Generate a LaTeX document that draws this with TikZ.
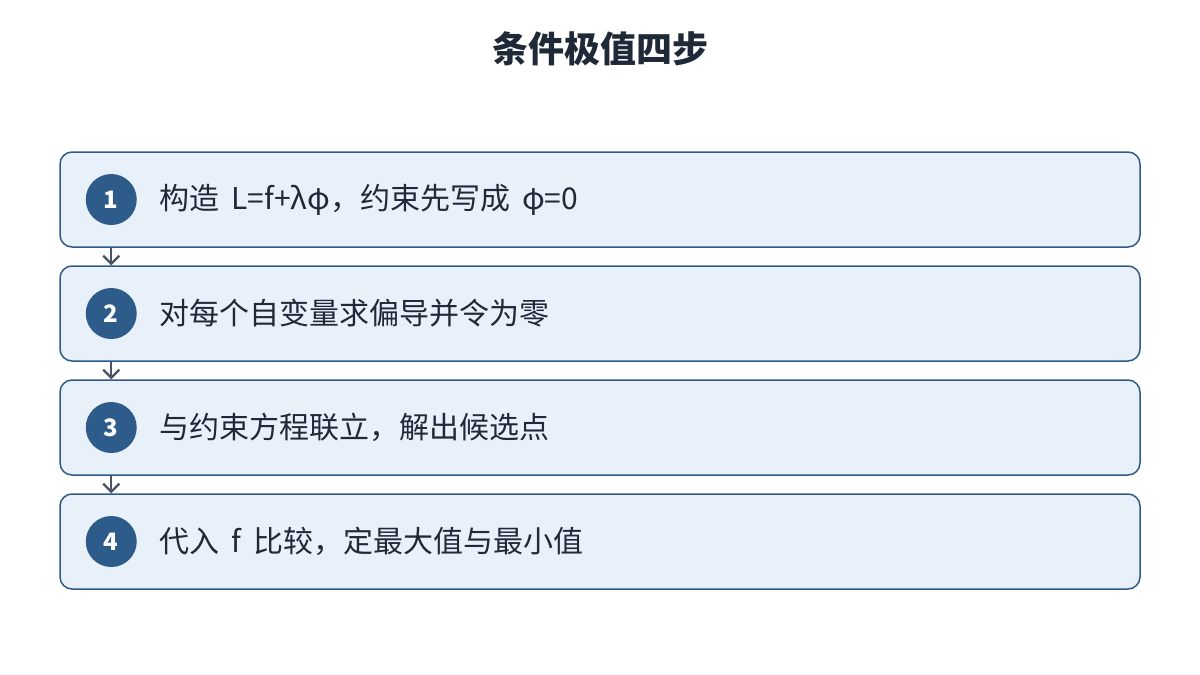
\documentclass[tikz,border=0pt]{standalone}
\usepackage{fontspec}
\setmainfont{Noto Sans CJK SC}[WordSpace=1.8]
\usetikzlibrary{arrows.meta, positioning}
\definecolor{boxfill}{HTML}{E8F0FA}
\definecolor{boxline}{HTML}{2F5A87}
\definecolor{badgeblue}{HTML}{2E5C8A}
\definecolor{linkgray}{HTML}{4A5363}
\definecolor{ink}{HTML}{1F2937}
\tikzstyle{stepbox} = [rectangle, rounded corners=12pt, line width=1.5pt, draw=boxline, fill=boxfill, minimum width=1080pt, minimum height=95pt]
\tikzstyle{badge} = [circle, fill=badgeblue, text=white, minimum size=51pt, inner sep=0pt, font=\fontsize{24}{28}\selectfont\bfseries]
\tikzstyle{steptext} = [anchor=west, inner sep=0pt, text=ink, font=\fontsize{30}{35}\selectfont]
\tikzstyle{arrow} = [line width=2.2pt, draw=linkgray, -{Straight Barb[length=8pt, width=16pt, line width=2.2pt]}]

\begin{document}
\begin{tikzpicture}[node distance = 17.5pt]
	\useasboundingbox (0,0) rectangle (1200pt,-675pt);
	\node (Title) [text=ink, font=\fontsize{36}{42}\selectfont\bfseries] at (600pt,-49pt) {条件极值四步};
	\node (Step1) [stepbox] at (600pt,-199.5pt) {};
	\node (Step2) [stepbox, below = of Step1] {};
	\node (Step3) [stepbox, below = of Step2] {};
	\node (Step4) [stepbox, below = of Step3] {};
	\node (Badge1) [badge, right = 52pt of Step1.west, anchor=center] {1};
	\node (Badge2) [badge, right = 52pt of Step2.west, anchor=center] {2};
	\node (Badge3) [badge, right = 52pt of Step3.west, anchor=center] {3};
	\node (Badge4) [badge, right = 52pt of Step4.west, anchor=center] {4};
	\node (Text1) [steptext, right = 100pt of Step1.west] {构造 L=f+λφ，约束先写成 φ=0};
	\node (Text2) [steptext, right = 100pt of Step2.west] {对每个自变量求偏导并令为零};
	\node (Text3) [steptext, right = 100pt of Step3.west] {与约束方程联立，解出候选点};
	\node (Text4) [steptext, right = 100pt of Step4.west] {代入 f 比较，定最大值与最小值};
	\draw [arrow] (Badge1 |- Step1.south) -- (Badge1 |- Step2.north);
	\draw [arrow] (Badge2 |- Step2.south) -- (Badge2 |- Step3.north);
	\draw [arrow] (Badge3 |- Step3.south) -- (Badge3 |- Step4.north);
\end{tikzpicture}
\end{document}
